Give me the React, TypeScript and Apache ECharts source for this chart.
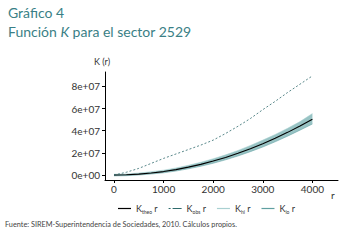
import React, { useEffect, useRef } from "react";
import * as echarts from "echarts";

const rValues = [0, 250, 500, 750, 1000, 1250, 1500, 1750, 2000, 2250, 2500, 2750, 3000, 3250, 3500, 3750, 4000];
const kTheo = [0, 0.2e6, 0.8e6, 1.8e6, 3.1e6, 4.9e6, 7.1e6, 9.6e6, 12.6e6, 15.9e6, 19.6e6, 23.8e6, 28.3e6, 33.2e6, 38.5e6, 44.2e6, 50.3e6];
const kObs = [0, 2.5e6, 6e6, 10.5e6, 15e6, 19e6, 23e6, 27e6, 31.5e6, 37.5e6, 44e6, 51e6, 59e6, 66.5e6, 74.5e6, 82e6, 89.5e6];
const kHi = [0.8e6, 1.0e6, 1.8e6, 3.0e6, 4.4e6, 6.4e6, 8.8e6, 11.5e6, 14.7e6, 18.2e6, 22.2e6, 26.7e6, 31.5e6, 36.6e6, 42.2e6, 48.2e6, 55.5e6];
const kLo = [-0.8e6, -0.6e6, 0, 0.9e6, 2.0e6, 3.6e6, 5.6e6, 7.9e6, 10.6e6, 13.7e6, 17.2e6, 21.1e6, 25.3e6, 30.0e6, 35.1e6, 40.5e6, 46.0e6];
const yTicks = [0, 2e7, 4e7, 6e7, 8e7];
const xTicks = [0, 1000, 2000, 3000, 4000];
const legendLabels: Record<string, string> = {
  Ktheo: "{k|K}{s|theo}{k| r}",
  Kobs: "{k|K}{s|obs}{k| r}",
  Khi: "{k|K}{s|hi}{k| r}",
  Klo: "{k|K}{s|lo}{k| r}",
};

const FONT = "Lato, 'Open Sans', sans-serif";
const TEAL = "#3a7f86";
const C_THEO = "#000000";
const C_OBS = "#2e6a6c";
const C_HI = "#a9d0d1";
const C_LO = "#5f9fa1";
const C_BAND = "#98c3c4";

const SOLID_ICON = "path://M0,0 L13,0 L13,1.2 L0,1.2 Z";
const DASH_ICON = "path://M0,0 L2,0 L2,1.2 L0,1.2 Z M4,0 L13,0 L13,1.2 L4,1.2 Z";

function fmtExp(v: number): string {
  if (v === 0) return "0e+00";
  const e = Math.floor(Math.log10(Math.abs(v)));
  const m = Math.round(v / Math.pow(10, e));
  return `${m}e+${e < 10 ? "0" + e : e}`;
}

export default function App() {
  const ref = useRef<HTMLDivElement>(null);
  useEffect(() => {
    if (!ref.current) return;
    const chart = echarts.init(ref.current, undefined, { renderer: "svg" });
    const pairs = (arr: number[]) => rValues.map((r, i) => [r, arr[i]]);
    const bandData = rValues.map((r, i) => [r, kLo[i], kHi[i]]);
    chart.setOption({
      animation: false,
      backgroundColor: "#ffffff",
      grid: { left: 105, right: 11, top: 72, bottom: 60 },
      xAxis: {
        type: "value",
        min: -181,
        max: 4516,
        splitLine: { show: false },
        axisLine: { show: true, onZero: false, lineStyle: { color: "#000", width: 1 } },
        axisTick: { show: true, length: 3, customValues: xTicks, lineStyle: { color: "#000" } },
        axisLabel: {
          customValues: xTicks,
          fontFamily: FONT,
          fontSize: 10,
          color: "#333",
          margin: 4,
          formatter: (v: number) => String(v),
        },
      },
      yAxis: {
        type: "value",
        min: -4.5e6,
        max: 9.3e7,
        splitLine: { show: false },
        axisLine: { show: true, onZero: false, lineStyle: { color: "#000", width: 1 } },
        axisTick: { show: true, length: 3, customValues: yTicks, lineStyle: { color: "#000" } },
        axisLabel: {
          customValues: yTicks,
          fontFamily: FONT,
          fontSize: 10,
          color: "#333",
          margin: 5,
          formatter: (v: number) => fmtExp(v),
        },
      },
      legend: {
        data: [
          { name: "Ktheo", icon: SOLID_ICON, itemStyle: { color: C_THEO } },
          { name: "Kobs", icon: DASH_ICON, itemStyle: { color: C_OBS } },
          { name: "Khi", icon: SOLID_ICON, itemStyle: { color: C_HI } },
          { name: "Klo", icon: SOLID_ICON, itemStyle: { color: C_LO } },
        ],
        left: 113,
        top: 199,
        itemWidth: 13,
        itemHeight: 8,
        itemGap: 11,
        formatter: (name: string) => legendLabels[name],
        textStyle: {
          fontFamily: FONT,
          color: "#333",
          fontSize: 9,
          rich: {
            k: { fontFamily: FONT, fontSize: 9, color: "#333" },
            s: { fontFamily: FONT, fontSize: 5, color: "#333", padding: [6, 0, 0, 0] },
          },
        },
      },
      graphic: [
        {
          type: "text",
          left: 8,
          top: 5,
          style: { text: "Gráfico 4", font: `14px ${FONT}`, fill: TEAL },
        },
        {
          type: "text",
          left: 8,
          top: 24,
          style: {
            text: "{n|Función }{i|K}{n| para el sector 2529}",
            rich: {
              n: { font: `14px ${FONT}`, fill: TEAL },
              i: { font: `italic 14px ${FONT}`, fill: TEAL },
            },
          },
        },
        {
          type: "text",
          left: 94,
          top: 57,
          style: { text: "K (r)", font: `9px ${FONT}`, fill: "#333" },
        },
        {
          type: "text",
          left: 331,
          top: 190,
          style: { text: "r", font: `10px ${FONT}`, fill: "#333" },
        },
        {
          type: "text",
          left: 5,
          top: 221,
          style: {
            text: "Fuente: SIREM-Superintendencia de Sociedades, 2010. Cálculos propios.",
            font: `7.3px ${FONT}`,
            fill: "#444",
          },
        },
      ],
      series: [
        {
          name: "band",
          type: "custom",
          data: bandData,
          encode: { x: 0, y: [1, 2] },
          silent: true,
          z: 1,
          renderItem: (params: any, api: any) => {
            if (params.dataIndex !== 0) return null;
            const upper = rValues.map((r, i) => api.coord([r, kHi[i]]));
            const lower = rValues.map((r, i) => api.coord([r, kLo[i]])).reverse();
            return {
              type: "polygon",
              shape: { points: upper.concat(lower) },
              style: { fill: C_BAND, stroke: "none" },
            };
          },
        },
        {
          name: "Klo",
          type: "line",
          data: pairs(kLo),
          symbol: "none",
          lineStyle: { color: C_LO, width: 0.5 },
          itemStyle: { color: C_LO },
          z: 2,
        },
        {
          name: "Khi",
          type: "line",
          data: pairs(kHi),
          symbol: "none",
          lineStyle: { color: C_HI, width: 0.5 },
          itemStyle: { color: C_HI },
          z: 2,
        },
        {
          name: "Ktheo",
          type: "line",
          data: pairs(kTheo),
          symbol: "none",
          lineStyle: { color: C_THEO, width: 1.1 },
          itemStyle: { color: C_THEO },
          z: 3,
        },
        {
          name: "Kobs",
          type: "line",
          data: pairs(kObs),
          symbol: "none",
          lineStyle: { color: C_OBS, width: 0.8, type: [2, 2] },
          itemStyle: { color: C_OBS },
          z: 3,
        },
      ],
    });
    return () => chart.dispose();
  }, []);
  return (
    <div
      ref={ref}
      style={{ position: "fixed", left: 0, top: 0, width: 349, height: 240, background: "#fff" }}
    />
  );
}
